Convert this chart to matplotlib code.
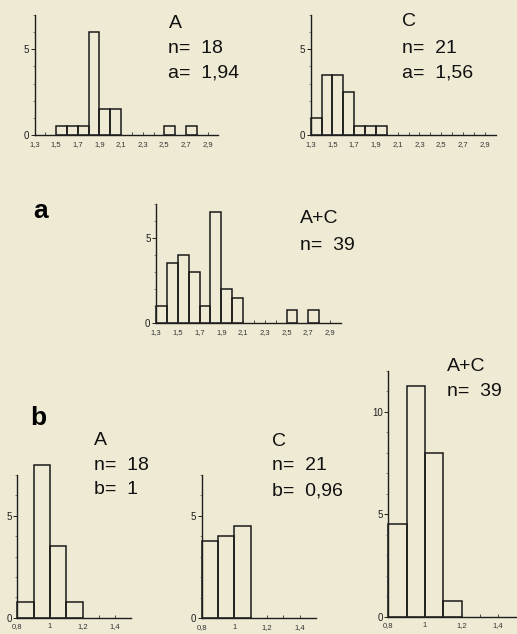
import matplotlib
matplotlib.use("Agg")
import matplotlib.pyplot as plt
import numpy as np

plt.rcParams['font.family'] = ['Liberation Sans', 'DejaVu Sans']

BG = '#efead4'

# ---- data ----
bins_a_start = [1.3, 1.4, 1.5, 1.6, 1.7, 1.8, 1.9, 2.0, 2.1, 2.2, 2.3, 2.4, 2.5, 2.6, 2.7, 2.8, 2.9]
a_A = [0, 0, 0.5, 0.5, 0.5, 6, 1.5, 1.5, 0, 0, 0, 0, 0.5, 0, 0.5, 0, 0]
a_C = [1, 3.5, 3.5, 2.5, 0.5, 0.5, 0.5, 0, 0, 0, 0, 0, 0, 0, 0, 0, 0]
a_AC = [1, 3.5, 4, 3, 1, 6.5, 2, 1.5, 0, 0, 0, 0, 0.75, 0, 0.75, 0, 0]
a_ticks = [1.3, 1.5, 1.7, 1.9, 2.1, 2.3, 2.5, 2.7, 2.9]
a_ticklabels = ['1,3', '1,5', '1,7', '1,9', '2,1', '2,3', '2,5', '2,7', '2,9']

bins_b_start = [0.8, 0.9, 1.0, 1.1, 1.2, 1.3, 1.4]
b_A = [0.75, 7.5, 3.5, 0.75, 0, 0, 0]
b_C = [3.75, 4, 4.5, 0, 0, 0, 0]
b_AC = [4.5, 11.25, 8, 0.75, 0, 0, 0]
b_ticks = [0.8, 1.0, 1.2, 1.4]
b_ticklabels = ['0,8', '1', '1,2', '1,4']

W, H = 517, 634
fig = plt.figure(figsize=(W / 100, H / 100), dpi=100, facecolor=BG)


def px_axes(left, top, right, bottom):
    ax = fig.add_axes([left / W, 1 - bottom / H, (right - left) / W, (bottom - top) / H])
    ax.set_facecolor('none')
    return ax


def style(ax, xlim, ylim, xticks, xlabels, yticks, yminor, xminor):
    ax.set_xlim(*xlim)
    ax.set_ylim(*ylim)
    for s in ('top', 'right'):
        ax.spines[s].set_visible(False)
    for s in ('left', 'bottom'):
        ax.spines[s].set_linewidth(1.0)
        ax.spines[s].set_color('#1e1e1e')
    ax.set_xticks(xticks)
    ax.set_xticklabels(xlabels, fontsize=5.5, color='#1e1e1e')
    ax.set_xticks(xminor, minor=True)
    ax.set_yticks(yticks)
    ax.set_yticklabels([str(v) for v in yticks], fontsize=7, color='#1e1e1e')
    ax.set_yticks(yminor, minor=True)
    ax.tick_params(axis='x', which='both', direction='in', length=2, width=0.6, pad=4, colors='#333333')
    ax.tick_params(axis='y', which='major', direction='out', length=3, width=0.7, pad=1, colors='#1e1e1e')
    ax.tick_params(axis='y', which='minor', direction='out', length=1.5, width=0.5, colors='#555555')


def bars(ax, starts, heights, width=0.1):
    xs = [s for s, h in zip(starts, heights) if h > 0]
    hs = [h for h in heights if h > 0]
    ax.bar(xs, hs, width=width, align='edge', facecolor='none', edgecolor='#1a1a1a',
           linewidth=1.1, clip_on=False)


def txt(x, y, s, **kw):
    fig.text(x / W, 1 - y / H, s, ha='left', va='baseline', fontsize=14, color='#111111', **kw)


minor_a = np.round(np.arange(1.3, 3.0, 0.1), 2)
minor_b = np.round(np.arange(0.8, 1.5, 0.1), 2)

# top-left A
ax1 = px_axes(34.5, 15, 218.5, 135)
bars(ax1, bins_a_start, a_A)
style(ax1, (1.3, 3.0), (0, 7), a_ticks, a_ticklabels, [0, 5], range(0, 8), minor_a)
txt(169, 28, 'A')
txt(168, 53, 'n=  18')
txt(168, 78, 'a=  1,94')

# top-right C
ax2 = px_axes(310.7, 15, 495.5, 135)
bars(ax2, bins_a_start, a_C)
style(ax2, (1.3, 3.0), (0, 7), a_ticks, a_ticklabels, [0, 5], range(0, 8), minor_a)
txt(402, 26, 'C')
txt(402, 53, 'n=  21')
txt(402, 78, 'a=  1,56')

# middle A+C
ax3 = px_axes(156, 203.5, 341, 323.3)
bars(ax3, bins_a_start, a_AC)
style(ax3, (1.3, 3.0), (0, 7), a_ticks, a_ticklabels, [0, 5], range(0, 8), minor_a)
txt(300, 223, 'A+C')
txt(300, 250, 'n=  39')

# bottom A
ax4 = px_axes(17.3, 475, 131.4, 617.7)
bars(ax4, bins_b_start, b_A)
style(ax4, (0.8, 1.5), (0, 7), b_ticks, b_ticklabels, [0, 5], range(0, 8), minor_b)
txt(94, 445, 'A')
txt(94, 470, 'n=  18')
txt(94, 494, 'b=  1')

# bottom C
ax5 = px_axes(201.7, 474.5, 315.8, 618)
bars(ax5, bins_b_start, b_C)
style(ax5, (0.8, 1.5), (0, 7), b_ticks, b_ticklabels, [0, 5], range(0, 8), minor_b)
txt(272, 446, 'C')
txt(272, 470, 'n=  21')
txt(272, 495, 'b=  0,96')

# bottom A+C
ax6 = px_axes(388.3, 370.7, 516.4, 616.7)
bars(ax6, bins_b_start, b_AC)
style(ax6, (0.8, 1.5), (0, 12), b_ticks, b_ticklabels, [0, 5, 10], range(0, 13), minor_b)
txt(447, 371, 'A+C')
txt(447, 396, 'n=  39')

# panel letters
fig.text(33 / W, 1 - 218 / H, 'a', fontsize=19, fontweight='bold', ha='left', va='baseline')
fig.text(30 / W, 1 - 425 / H, 'b', fontsize=19, fontweight='bold', ha='left', va='baseline')

fig.savefig('out.png', dpi=100, facecolor=BG)
